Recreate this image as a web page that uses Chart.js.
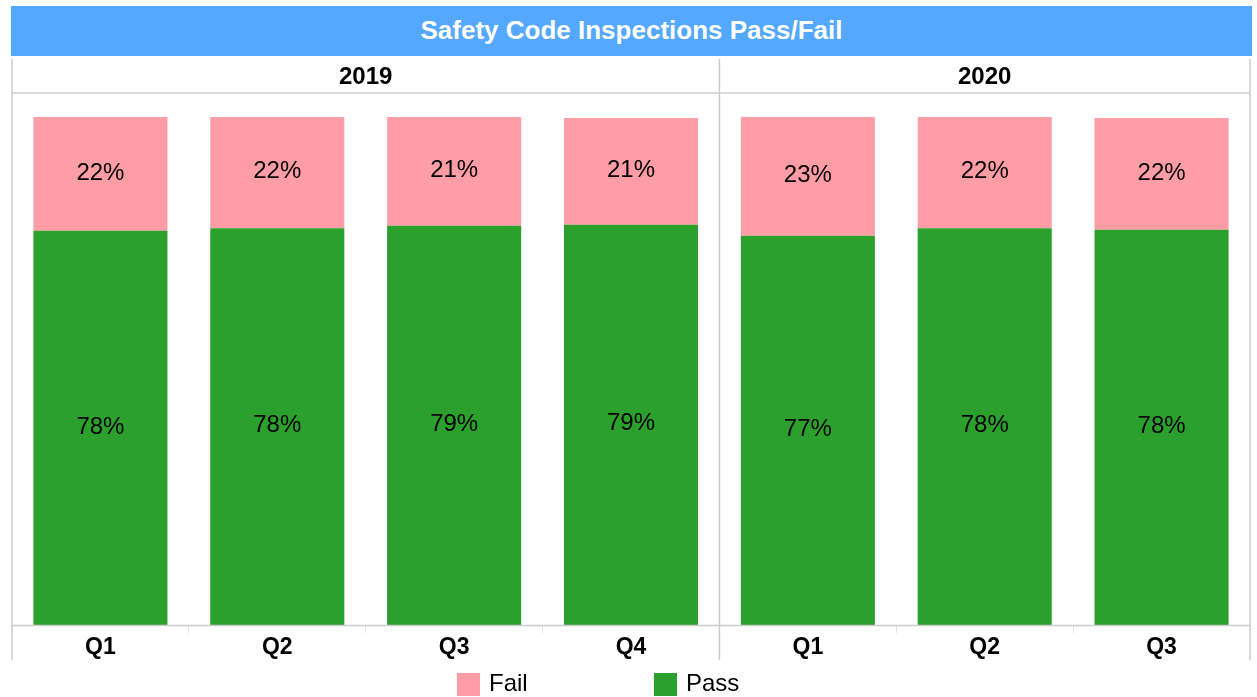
<!DOCTYPE html>
<html><head><meta charset="utf-8">
<script src="https://cdn.jsdelivr.net/npm/chart.js@4.4.0/dist/chart.umd.min.js"></script>
<style>
html,body{margin:0;padding:0;background:#fff;width:1257px;height:697px;overflow:hidden;font-family:"Liberation Sans",Arial,sans-serif;}
#wrap{position:relative;width:1257px;height:697px;}
#c{position:absolute;left:0;top:0;}
#title{position:absolute;left:11px;top:6px;width:1241px;height:50px;background:#54a8ff;color:#fff;font-weight:bold;font-size:26px;line-height:49px;text-align:center;}
.year{position:absolute;top:64px;height:24px;line-height:24px;font-weight:bold;font-size:24px;text-align:center;color:#000;}
.li{position:absolute;top:671px;font-size:24px;line-height:24px;color:#000;white-space:nowrap;}
.sw{position:absolute;top:673px;width:23px;height:23px;}
</style>
</head><body>
<div id="wrap">
<canvas id="c" width="1257" height="697"></canvas>
<div id="title">Safety Code Inspections Pass/Fail</div>
</div>
<script>
const categories = ['Q1','Q2','Q3','Q4','Q1','Q2','Q3'];
const years = ['2019','2020'];
const yearGroupSizes = [4,3];
const passValues = [0.776,0.781,0.786,0.788,0.766,0.781,0.778];
const failValues = [0.224,0.219,0.214,0.210,0.234,0.219,0.220];
const seriesNames = ['Pass','Fail'];
const seriesColors = ['#2ca02c','#ff9da7'];
const legendOrder = [1,0];
const legendX = [457,654];

const FONT = '"Liberation Sans", Arial, sans-serif';

const labelPlugin = {
  id:'segLabels',
  afterDatasetsDraw(chart){
    const ctx = chart.ctx;
    ctx.save();
    ctx.font = '24px ' + FONT;
    ctx.fillStyle = '#000';
    ctx.textAlign = 'center';
    ctx.textBaseline = 'middle';
    chart.data.datasets.forEach((ds,di)=>{
      const meta = chart.getDatasetMeta(di);
      meta.data.forEach((el,i)=>{
        const v = ds.data[i];
        const yc = (el.y + el.base)/2;
        ctx.fillText(Math.round(v*100)+'%', el.x, yc - 1);
      });
    });
    ctx.restore();
  }
};

const framePlugin = {
  id:'frame',
  afterDraw(chart){
    const ctx = chart.ctx, a = chart.chartArea, xs = chart.scales.x;
    const n = categories.length;
    const w = (a.right - a.left)/n;
    ctx.save();
    ctx.strokeStyle = '#cccccc';
    ctx.lineWidth = 1.5;
    const ln=(x1,y1,x2,y2)=>{ctx.beginPath();ctx.moveTo(x1,y1);ctx.lineTo(x2,y2);ctx.stroke();};
    const topY = a.top - 58, botY = a.bottom + 35, headY = a.top - 24;
    ln(a.left, headY, a.right, headY);
    ln(a.left, a.bottom+0.5, a.right, a.bottom+0.5);
    ln(a.left, topY, a.left, botY);
    ln(a.right, topY, a.right, botY);
    let idx = 0;
    for (let g=0; g<yearGroupSizes.length-1; g++){
      idx += yearGroupSizes[g];
      const bx = xs.getPixelForTick(idx) - w/2;
      ln(bx, topY, bx, botY);
    }
    ctx.restore();
  }
};

const chart = new Chart(document.getElementById('c'), {
  type:'bar',
  data:{
    labels: categories,
    datasets: seriesNames.map((name,k)=>({
      label: name,
      data: k===0 ? passValues : failValues,
      backgroundColor: seriesColors[k],
      borderWidth: 0,
      barPercentage: 0.758,
      categoryPercentage: 1.0
    }))
  },
  options:{
    responsive:false,
    animation:false,
    layout:{padding:{left:12,right:7,top:117,bottom:0}},
    plugins:{legend:{display:false},title:{display:false},tooltip:{enabled:false}},
    scales:{
      x:{
        stacked:true,
        offset:true,
        grid:{display:true, drawOnChartArea:false, drawTicks:true, tickLength:8, offset:true, color:'#e4e4e4', lineWidth:1},
        border:{display:false},
        ticks:{font:{family:FONT, size:23, weight:'bold'}, color:'#000', padding:1, maxRotation:0},
        afterFit(s){ s.height = 72; }
      },
      y:{stacked:true, display:false, min:0, max:1}
    }
  },
  plugins:[labelPlugin, framePlugin]
});

// year headers positioned from the x scale
(function(){
  const a = chart.chartArea, xs = chart.scales.x;
  const w = (a.right - a.left)/categories.length;
  const wrap = document.getElementById('wrap');
  let idx = 0;
  years.forEach((y,g)=>{
    const l = xs.getPixelForTick(idx) - w/2;
    const r = xs.getPixelForTick(idx + yearGroupSizes[g]-1) + w/2;
    idx += yearGroupSizes[g];
    const d = document.createElement('div');
    d.className='year'; d.textContent=y;
    d.style.left = l+'px'; d.style.width = (r-l)+'px';
    wrap.appendChild(d);
  });
  legendOrder.forEach((k,j)=>{
    const sw = document.createElement('div');
    sw.className='sw'; sw.style.left = legendX[j]+'px'; sw.style.background = seriesColors[k];
    wrap.appendChild(sw);
    const t = document.createElement('div');
    t.className='li'; t.style.left = (legendX[j]+32)+'px'; t.textContent = seriesNames[k];
    wrap.appendChild(t);
  });
})();
</script>
</body></html>
